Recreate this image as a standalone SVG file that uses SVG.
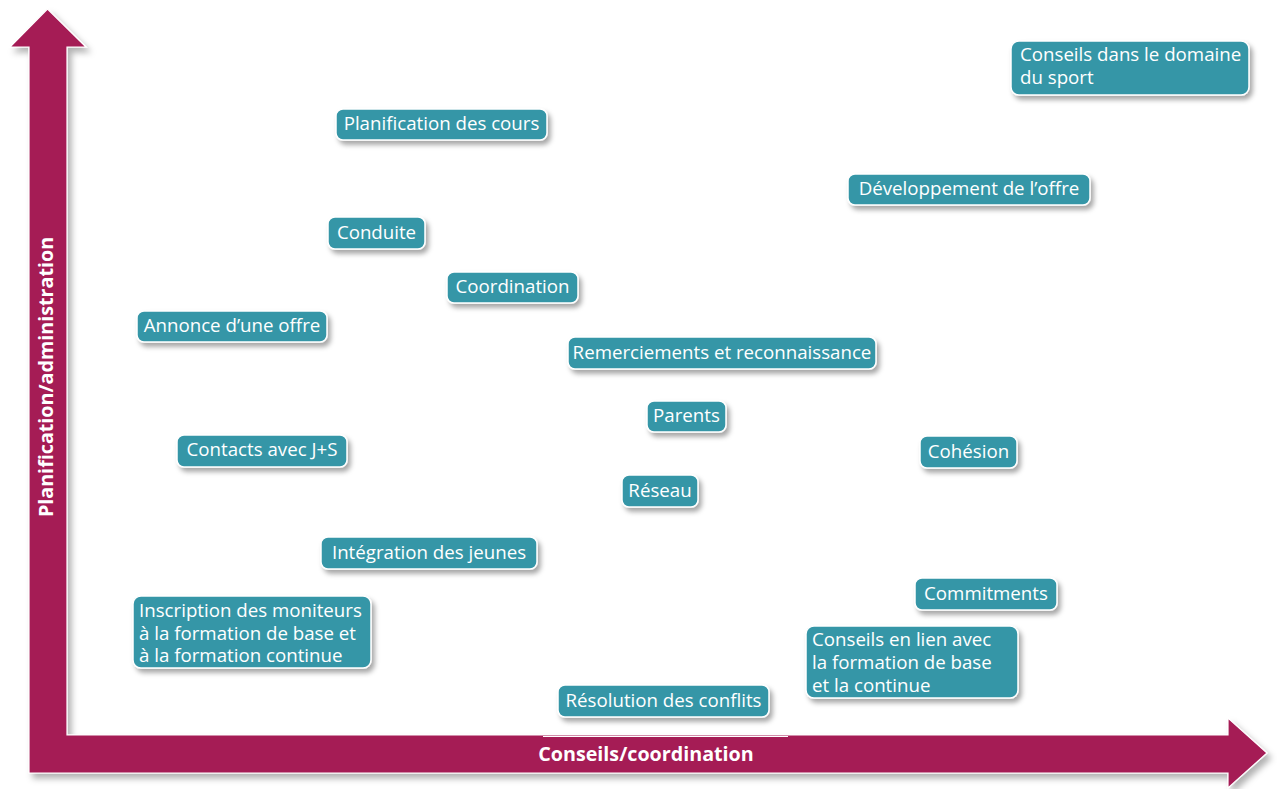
<svg xmlns="http://www.w3.org/2000/svg" width="1277" height="789" viewBox="0 0 1277 789">
<defs>
<filter id="sh" x="-20%" y="-30%" width="140%" height="170%">
<feDropShadow dx="3" dy="4" stdDeviation="2.5" flood-color="#000" flood-opacity="0.35"/>
</filter>
<filter id="ash" x="-5%" y="-5%" width="110%" height="110%">
<feDropShadow dx="4" dy="5" stdDeviation="3" flood-color="#000" flood-opacity="0.3"/>
</filter>
<style>
.box{fill:#3596A7;stroke:#fff;stroke-width:1.5;filter:url(#sh)}
.t{font-family:"Open Sans","Noto Sans",sans-serif;font-size:18.7px;fill:#fff}
.c{text-anchor:middle}
.ax{font-family:"Open Sans","Noto Sans",sans-serif;font-size:19.7px;font-weight:bold;fill:#fff;text-anchor:middle}
</style>
</defs>
<rect width="1277" height="789" fill="#fff"/>
<g id="axes">
<path d="M29,773 L29,47 L10,47 L47.5,9 L86,47 L67,47 L67,735 L1228,735 L1228,718 L1267,753 L1228,788 L1228,773 Z" fill="#A51A55" stroke="#fff" stroke-width="1.2" filter="url(#ash)"/>
<line x1="543" y1="736.5" x2="788" y2="736.5" stroke="#fff" stroke-width="1.2"/>
<text class="ax" x="646" y="761">Conseils/coordination</text>
<text class="ax" transform="translate(53,377) rotate(-90)">Planification/administration</text>
</g>
<g id="connectors"></g>
<g id="n1"><rect class="box" x="1011" y="41" width="238" height="54" rx="8"/><text class="t" x="1020" y="61">Conseils dans le domaine<tspan x="1020" dy="23">du sport</tspan></text></g>
<g id="n2"><rect class="box" x="336" y="109" width="211" height="31" rx="7"/><text class="t c" x="441.5" y="130">Planification des cours</text></g>
<g id="n3"><rect class="box" x="848" y="174" width="242" height="31" rx="7"/><text class="t c" x="969" y="195">Développement de l’offre</text></g>
<g id="n4"><rect class="box" x="328" y="217" width="97" height="32" rx="7"/><text class="t c" x="376.5" y="239">Conduite</text></g>
<g id="n5"><rect class="box" x="447" y="272" width="131" height="31" rx="7"/><text class="t c" x="512.5" y="293">Coordination</text></g>
<g id="n6"><rect class="box" x="137" y="311" width="190" height="31" rx="7"/><text class="t c" x="232" y="332">Annonce d’une offre</text></g>
<g id="n7"><rect class="box" x="568" y="337" width="308" height="32" rx="7"/><text class="t c" x="722" y="359">Remerciements et reconnaissance</text></g>
<g id="n8"><rect class="box" x="647" y="401" width="79" height="31" rx="7"/><text class="t c" x="686.5" y="422">Parents</text></g>
<g id="n9"><rect class="box" x="177" y="435" width="170" height="32" rx="7"/><text class="t c" x="262" y="456">Contacts avec J+S</text></g>
<g id="n10"><rect class="box" x="920" y="436" width="97" height="32" rx="7"/><text class="t c" x="968.5" y="458">Cohésion</text></g>
<g id="n11"><rect class="box" x="622" y="475" width="76" height="32" rx="7"/><text class="t c" x="660" y="497">Réseau</text></g>
<g id="n12"><rect class="box" x="321" y="537" width="216" height="32" rx="7"/><text class="t c" x="429" y="559">Intégration des jeunes</text></g>
<g id="n13"><rect class="box" x="915" y="578" width="142" height="32" rx="7"/><text class="t c" x="986" y="600">Commitments</text></g>
<g id="n14"><rect class="box" x="133" y="596" width="238" height="72" rx="8"/><text class="t" x="139" y="617">Inscription des moniteurs<tspan x="139" dy="22.5">à la formation de base et</tspan><tspan x="139" dy="22.5">à la formation continue</tspan></text></g>
<g id="n15"><rect class="box" x="806" y="626" width="212" height="72" rx="8"/><text class="t" x="812" y="646">Conseils en lien avec<tspan x="812" dy="23">la formation de base</tspan><tspan x="812" dy="23">et la continue</tspan></text></g>
<g id="n16"><rect class="box" x="558" y="685" width="211" height="32" rx="7"/><text class="t c" x="663.5" y="707">Résolution des conflits</text></g>
</svg>
